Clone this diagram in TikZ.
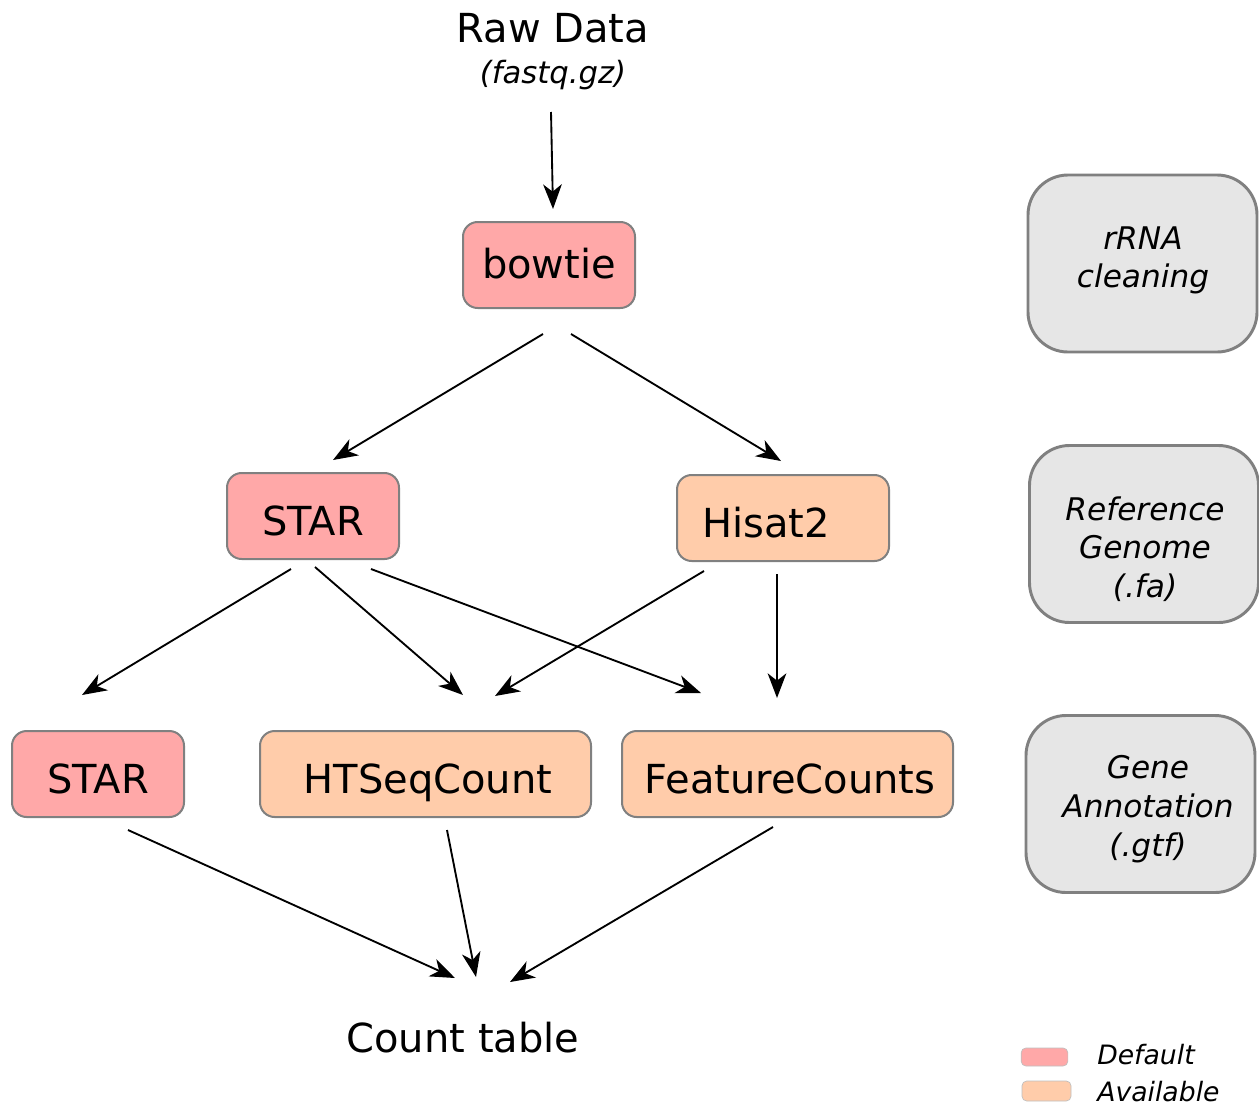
\documentclass[tikz,border=0pt]{standalone}
\usepackage{fontspec}
\setmainfont{DejaVu Sans}
\usetikzlibrary{arrows.meta,calc}
\definecolor{defc}{HTML}{FFA8A8}
\definecolor{avac}{HTML}{FFCCAA}
\definecolor{sidec}{HTML}{E6E6E6}
\definecolor{bordc}{HTML}{808080}
\begin{document}
\begin{tikzpicture}[x=0.75pt,y=-0.75pt,
  box/.style={draw=bordc,line width=1.5pt,rounded corners=11pt,minimum height=64.5pt,
    inner sep=0pt,text height=28.5pt,text depth=0pt,font=\fontsize{30}{35}\selectfont},
  defbox/.style={box,fill=defc},
  avabox/.style={box,fill=avac},
  sidebox/.style={draw=bordc,line width=2.2pt,fill=sidec,rounded corners=30pt,
    minimum width=171.75pt,minimum height=132.75pt,inner sep=0pt},
  sidetext/.style={inner sep=0pt,align=center,font=\fontsize{23.4}{29}\selectfont\itshape},
  bigtext/.style={inner sep=0pt,font=\fontsize{30}{35}\selectfont},
  arr/.style={line width=1.4pt,-{Stealth[length=18.5pt,width=14pt,inset=5.5pt]}},
  swatch/.style={draw=bordc!50,line width=0.5pt,rounded corners=3.5pt,inner sep=0pt},
  legtext/.style={anchor=west,inner sep=0pt,font=\fontsize{20}{24}\selectfont\itshape}]
\useasboundingbox (0,0) rectangle (1259,1107);
\node[bigtext] (raw) at (553,28) {Raw Data};
\node[inner sep=0pt,font=\fontsize{23}{28}\selectfont\itshape] (fastq) at (553,75) {(fastq.gz)};
\node[defbox,minimum width=129pt,text height=20.5pt] (bowtie) at (549,265) {bowtie};
\node[defbox,minimum width=129pt] (star1) at (313,516) {STAR};
\node[avabox,minimum width=159pt] (hisat) at (783,518) {Hisat2\kern25.5pt};
\node[defbox,minimum width=129pt] (star2) at (98,774) {STAR};
\node[avabox,minimum width=248.25pt] (htseq) at (425.5,774) {\kern3.75pt HTSeqCount};
\node[avabox,minimum width=248.25pt] (fc) at (787.5,774) {\kern3.75pt FeatureCounts};
\node[bigtext] (count) at (463,1038) {Count table};
\node[sidebox] (rrna) at (1142.5,263.5) {};
\node[sidebox] (refgen) at (1144,534) {};
\node[sidebox] (geneann) at (1140.5,804) {};
\node[sidetext] (rrnat) at ($(rrna.center)+(0.5,-3)$) {rRNA\\cleaning};
\node[sidetext] (refgent) at ($(refgen.center)+(1,15)$) {Reference\\Genome\\(.fa)};
\node[sidetext] (geneannt) at ($(geneann.center)+(7.5,5)$) {Gene\\Annotation\\(.gtf)};
\node[swatch,fill=defc,minimum width=35pt,minimum height=13.5pt] (swdef) at (1044.5,1057) {};
\node[swatch,fill=avac,minimum width=36.75pt,minimum height=15pt] (swava) at (1046.5,1091) {};
\node[legtext] (ldef) at (1097,1055) {Default};
\node[legtext] (lava) at (1097,1092) {Available};
\draw[arr] ($(fastq.center)+(-2,37)$) -- ($(bowtie.north)+(4,-12)$);
\draw[arr] ($(bowtie.south)+(-6,25)$) -- ($(star1.north)+(20,-12)$);
\draw[arr] ($(bowtie.south)+(22,25)$) -- ($(hisat.north)+(-2,-13)$);
\draw[arr] ($(star1.south)+(-22,9)$) -- ($(star2.north)+(-16,-35)$);
\draw[arr] ($(star1.south)+(2,7)$) -- ($(htseq.north)+(37.5,-35)$);
\draw[arr] ($(star1.south)+(58,9)$) -- ($(fc.north)+(-86.5,-37)$);
\draw[arr] ($(hisat.south)+(-79,9)$) -- ($(htseq.north)+(69.5,-34)$);
\draw[arr] ($(hisat.south)+(-6,12)$) -- ($(fc.north)+(-10.5,-32)$);
\draw[arr] ($(star2.south)+(30,12)$) -- ($(count.center)+(-8,-60)$);
\draw[arr] ($(htseq.south)+(21.5,12)$) -- ($(count.center)+(13,-61)$);
\draw[arr] ($(fc.south)+(-14.5,9)$) -- ($(count.center)+(47,-56)$);
\end{tikzpicture}
\end{document}
